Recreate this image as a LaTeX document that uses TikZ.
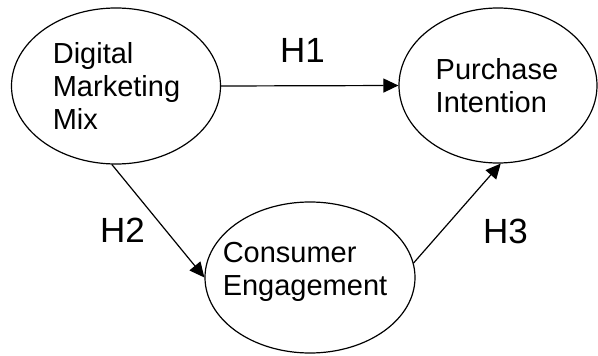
\documentclass[tikz,border=0pt]{standalone}
\usepackage{fontspec}
\setmainfont{Liberation Sans}
\usetikzlibrary{shapes.geometric,arrows.meta}

\tikzset{
  construct/.style={draw, ellipse, line width=1.2pt, inner sep=0pt},
  conlabel/.style={align=left, inner sep=0pt,
    font=\fontsize{29}{33}\selectfont},
  hyp/.style={inner sep=0pt, anchor=base, font=\fontsize{35}{40}\selectfont},
  path/.style={line width=1.2pt, -{Triangle[length=15pt,width=14pt]}}
}

\begin{document}
\begin{tikzpicture}[x=1pt, y=-1pt]
  \useasboundingbox (0,0) rectangle (598,356);

  % constructs
  \node[construct, minimum width=209pt, minimum height=156pt] (dmm) at (116,86) {};
  \node[construct, minimum width=198pt, minimum height=155pt] (pi) at (498,85.5) {};
  \node[construct, minimum width=210pt, minimum height=151pt] (ce) at (310,277.5) {};

  \node[conlabel] (dmmtext) at (116.5,86) {Digital\\Marketing\\Mix};
  \node[conlabel] (pitext) at (497,86) {Purchase\\Intention};
  \node[conlabel] (cetext) at (305,271.5) {Consumer\\Engagement};

  % hypothesised paths
  \draw[path] (dmm.east) -- (pi.west);
  \draw[path] (dmm.-93) -- (ce.west);
  \draw[path] (ce.8) -- (pi.-88);

  \node[hyp] (h1) at (302.5,62) {H1};
  \node[hyp] (h2) at (122.5,242) {H2};
  \node[hyp] (h3) at (505.5,243) {H3};
\end{tikzpicture}
\end{document}
